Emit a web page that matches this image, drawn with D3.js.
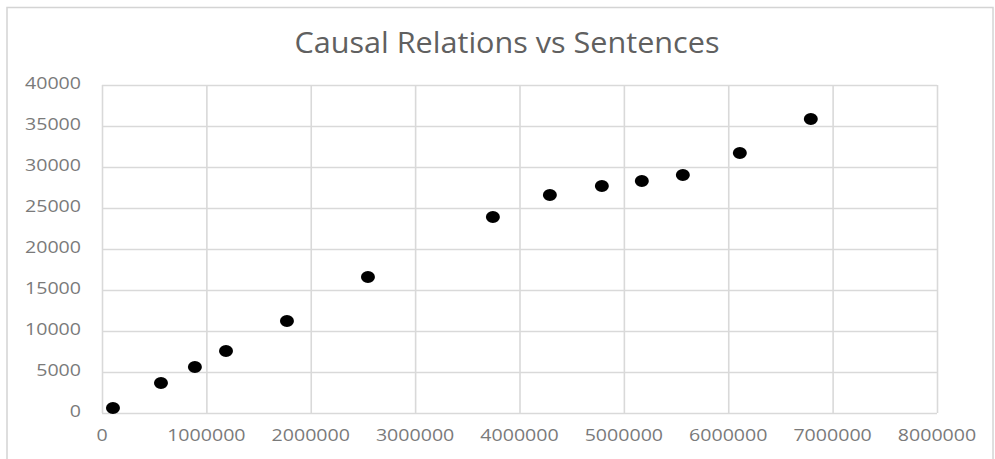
<!DOCTYPE html>
<html><head><meta charset="utf-8">
<script src="https://cdn.jsdelivr.net/npm/d3@7"></script>
<style>body{margin:0;background:#fff;}svg{display:block;}</style>
</head><body>
<svg id="c" width="995" height="459"></svg>
<script>
const sentences = [105000, 565000, 890000, 1188000, 1772000, 2548000, 3745000, 4291000, 4789000, 5172000, 5565000, 6111000, 6791000];
const relations = [600, 3660, 5610, 7560, 11220, 16590, 23900, 26590, 27680, 28290, 29020, 31710, 35850];
const xTicks = [0, 1000000, 2000000, 3000000, 4000000, 5000000, 6000000, 7000000, 8000000];
const yTicks = [0, 5000, 10000, 15000, 20000, 25000, 30000, 35000, 40000];
const title = "Causal Relations vs Sentences";

const svg = d3.select("#c");
const L = 102, R = 937, T = 85, B = 413;
const x = d3.scaleLinear().domain([0, 8000000]).range([L, R]);
const y = d3.scaleLinear().domain([0, 40000]).range([B, T]);

// outer border
svg.append("rect").attr("x", 7).attr("y", 7.5).attr("width", 986).attr("height", 470)
  .attr("fill", "none").attr("stroke", "#d4d4d4").attr("stroke-width", 1.5);

// title
svg.append("text").attr("x", 507).attr("y", 53).attr("text-anchor", "middle")
  .attr("font-family", "Open Sans").attr("font-size", 29).attr("fill", "#606060")
  .attr("textLength", 425).attr("lengthAdjust", "spacingAndGlyphs").text(title);

// gridlines via axes
const gx = svg.append("g").attr("transform", `translate(0,${B})`)
  .call(d3.axisBottom(x).tickValues(xTicks).tickSize(-(B - T)).tickFormat(""));
const gy = svg.append("g").attr("transform", `translate(${L},0)`)
  .call(d3.axisLeft(y).tickValues(yTicks).tickSize(-(R - L)).tickFormat(""));
[gx, gy].forEach(g => {
  g.select(".domain").remove();
  g.selectAll(".tick line").attr("stroke", "#d9d9d9").attr("stroke-width", 1.6);
});

// tick labels
const charW = 11.2;
svg.append("g").selectAll("text").data(yTicks).join("text")
  .attr("x", 81).attr("y", d => y(d) + 4)
  .attr("text-anchor", "end")
  .attr("font-family", "Open Sans").attr("font-size", 17).attr("fill", "#7a7a7a")
  .attr("textLength", d => String(d).length * charW).attr("lengthAdjust", "spacingAndGlyphs")
  .text(d => d);
svg.append("g").selectAll("text").data(xTicks).join("text")
  .attr("x", d => x(d)).attr("y", 441)
  .attr("text-anchor", "middle")
  .attr("font-family", "Open Sans").attr("font-size", 17).attr("fill", "#7a7a7a")
  .attr("textLength", d => String(d).length * charW).attr("lengthAdjust", "spacingAndGlyphs")
  .text(d => d);

// points
svg.append("g").selectAll("ellipse").data(sentences.map((s, i) => [s, relations[i]])).join("ellipse")
  .attr("cx", d => x(d[0])).attr("cy", d => y(d[1]))
  .attr("rx", 7).attr("ry", 6).attr("fill", "#000");
</script>
</body></html>
